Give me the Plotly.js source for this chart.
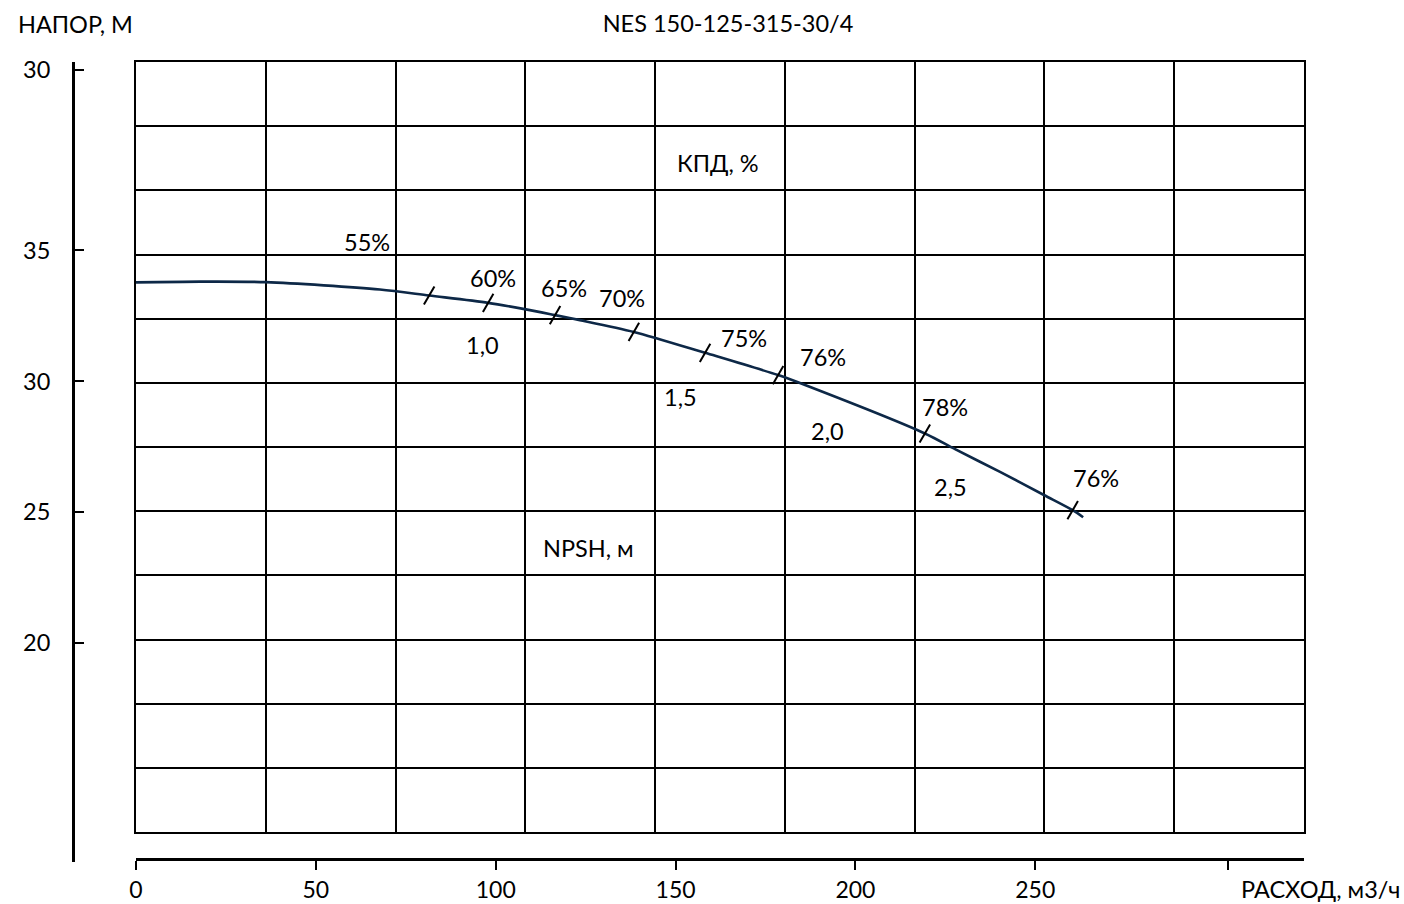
<!DOCTYPE html>
<html>
<head>
<meta charset="utf-8">
<script src="https://cdn.plot.ly/plotly-3.0.1.min.js"></script>
<style>html,body{margin:0;padding:0;background:#fff;}#chart{width:1404px;height:904px;}</style>
</head>
<body>
<div id="chart"></div>
<script>
// Head curve H(Q)
const flowQ = [0, 17.8, 36.1, 67.8, 81.5, 97.9, 108.4, 116.5, 123.4, 138.4, 158.2, 178.5, 186.0, 219.3, 227.7, 240.2, 252.4, 260.4, 263.3];
const headH = [33.78, 33.81, 33.79, 33.51, 33.28, 33.00, 32.75, 32.53, 32.34, 31.89, 31.09, 30.24, 29.86, 28.01, 27.41, 26.54, 25.66, 25.08, 24.81];

// Efficiency marks on the curve
const effQ = [81.5, 97.9, 116.5, 138.4, 158.2, 178.5, 219.3, 260.4];
const effH = [33.28, 33.00, 32.53, 31.89, 31.09, 30.24, 28.01, 25.08];
const effLabels = ['55%', '60%', '65%', '70%', '75%', '76%', '78%', '76%'];
const effLabelQ = [64.2, 99.2, 119.0, 135.1, 169.0, 191.0, 224.9, 266.9];
const effLabelH = [35.32, 33.95, 33.56, 33.18, 31.65, 30.93, 29.02, 26.31];

// NPSH labels
const npshLabels = ['1,0', '1,5', '2,0', '2,5'];
const npshLabelQ = [96.2, 151.5, 192.1, 226.3];
const npshLabelH = [31.39, 29.40, 28.10, 25.96];

// Axis ticks
const xTickVals = [0, 50, 100, 150, 200, 250, 303.6];
const xTickText = ['0', '50', '100', '150', '200', '250', ''];
const yTickVals = [41.89, 35, 30, 25, 20];
const yTickText = ['30', '35', '30', '25', '20'];

const FONT = 'Lato, "Open Sans", sans-serif';
const FS = 23.5;

const traces = [
  {x: [], y: [], xaxis: 'x', yaxis: 'y', type: 'scatter', mode: 'lines', hoverinfo: 'skip', showlegend: false},
  {x: flowQ, y: headH, xaxis: 'x2', yaxis: 'y2', type: 'scatter', mode: 'lines',
   line: {color: '#0d2847', width: 2.6, shape: 'spline', smoothing: 0.8}, showlegend: false},
  {x: effQ, y: effH, xaxis: 'x2', yaxis: 'y2', type: 'scatter', mode: 'markers',
   marker: {symbol: 'line-ns', size: 15, angle: 30, line: {color: '#000', width: 2}}, showlegend: false}
];

const txt = (t, x, y, xref, yref) => ({x: x, y: y, xref: xref, yref: yref, text: t, showarrow: false,
  xanchor: 'center', yanchor: 'middle', font: {family: FONT, size: FS, color: '#000'}});

const annotations = [];
effLabels.forEach((t, i) => annotations.push(txt(t, effLabelQ[i], effLabelH[i], 'x2', 'y2')));
npshLabels.forEach((t, i) => annotations.push(txt(t, npshLabelQ[i], npshLabelH[i], 'x2', 'y2')));
annotations.push(txt('КПД, %', 161.8, 38.34, 'x2', 'y2'));
annotations.push(txt('NPSH, м', 125.7, 23.63, 'x2', 'y2'));
annotations.push(txt('НАПОР, М', (75 - 73) / 1231, (862 - 24) / 800, 'paper', 'paper'));
annotations.push(txt('РАСХОД, м3/ч', (1320 - 73) / 1231, (862 - 889) / 800, 'paper', 'paper'));

const layout = {
  width: 1404, height: 904,
  margin: {l: 73, r: 100, t: 62, b: 42},
  paper_bgcolor: '#fff', plot_bgcolor: 'rgba(0,0,0,0)',
  font: {family: FONT, size: FS, color: '#000'},
  title: {text: 'NES 150-125-315-30/4', x: 728/1404, xref: 'container', xanchor: 'center', y: 1 - 24/904, yref: 'container', yanchor: 'middle', font: {family: FONT, size: FS, color: '#000'}},
  showlegend: false,
  xaxis: {domain: [63/1231, 1], range: [0, 9], dtick: 1, tick0: 0, showgrid: true, gridcolor: '#000', gridwidth: 2,
          showline: true, mirror: true, linecolor: '#000', linewidth: 2, zeroline: false, showticklabels: false, ticks: '', anchor: 'y', fixedrange: true},
  yaxis: {domain: [30/800, 1], range: [0, 12], dtick: 1, tick0: 0, showgrid: true, gridcolor: '#000', gridwidth: 2,
          showline: true, mirror: true, linecolor: '#000', linewidth: 2, zeroline: false, showticklabels: false, ticks: '', anchor: 'x', fixedrange: true},
  xaxis2: {domain: [63/1231, 1], range: [0, 324.7], anchor: 'free', position: 3/800, showgrid: false, zeroline: false,
           showline: true, linecolor: '#000', linewidth: 2.5, ticks: 'outside', ticklen: 9, tickwidth: 2, tickcolor: '#000',
           tickmode: 'array', tickvals: xTickVals, ticktext: xTickText, ticklabelstandoff: 1, tickfont: {family: FONT, size: 23, color: '#000'}},
  yaxis2: {domain: [0, 1], range: [11.64, 42.20], anchor: 'free', position: 0, showgrid: false, zeroline: false,
           showline: true, linecolor: '#000', linewidth: 2.5, ticks: 'inside', ticklen: 9, tickwidth: 2, tickcolor: '#000',
           tickmode: 'array', tickvals: yTickVals, ticktext: yTickText, ticklabelstandoff: 17, tickfont: {family: FONT, size: FS, color: '#000'}},
  annotations: annotations
};

Plotly.newPlot('chart', traces, layout, {staticPlot: true, displayModeBar: false});
</script>
</body>
</html>
